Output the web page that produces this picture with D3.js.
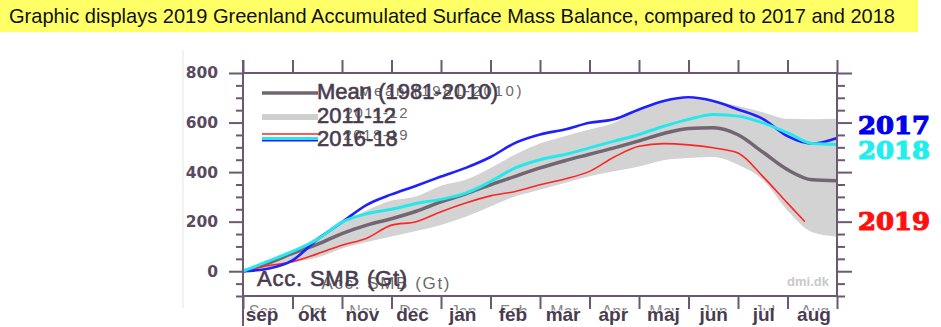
<!DOCTYPE html>
<html>
<head>
<meta charset="utf-8">
<script src="https://cdn.jsdelivr.net/npm/d3@7"></script>
<style>
body { margin: 0; background: #fff; }
svg { display: block; font-family: "Liberation Sans", Arial, sans-serif; }
</style>
</head>
<body>
<div id="canvas"></div>
<script>
// ----------------------------------------------------------
// DATA -----------------------------------------------------
// ----------------------------------------------------------
// x position in months since 1 Sep (half month steps)
var monthPos = [0, 0.5, 1, 1.5, 2, 2.5, 3, 3.5, 4, 4.5, 5, 5.5, 6, 6.5, 7, 7.5, 8, 8.5, 9, 9.5, 10, 10.5, 11, 11.5, 12];
var mean1981 = [0, 32, 72, 108, 152, 186, 212, 242, 280, 312, 349, 383, 417, 446, 472, 498, 526, 556, 576, 579, 551, 481, 410, 369, 365];
var bandUpper = [0, 35, 75, 140, 195, 245, 285, 302, 345, 369, 417, 471, 515, 545, 572, 599, 656, 687, 695, 687, 667, 642, 615, 613, 615];
var bandLower = [0, 15, 35, 55, 92, 118, 140, 162, 187, 220, 261, 302, 329, 356, 383, 403, 423, 448, 457, 461, 430, 369, 245, 157, 139];
var smb2017 = [0, 10, 44, 128, 198, 268, 310, 345, 382, 417, 461, 518, 552, 572, 599, 613, 653, 687, 702, 687, 653, 615, 545, 515, 538];
var smb2018 = [0, 40, 80, 128, 198, 232, 250, 273, 290, 315, 362, 417, 450, 471, 498, 525, 552, 585, 613, 633, 626, 599, 559, 515, 511];
// 2019 stops mid august
var pos2019 = [0, 0.5, 1, 1.5, 2, 2.5, 3, 3.5, 4, 4.5, 5, 5.5, 6, 6.5, 7, 7.5, 8, 8.5, 9, 9.5, 10, 10.5, 11, 11.35];
var smb2019 = [0, 22, 38, 70, 105, 133, 186, 200, 240, 275, 304, 322, 349, 372, 403, 461, 504, 515, 510, 498, 477, 383, 275, 200];

var monthLabels = ["sep", "okt", "nov", "dec", "jan", "feb", "mar", "apr", "maj", "jun", "jul", "aug"];
var monthGhost = ["Sep", "Oct", "Nov", "Dec", "Jan", "Feb", "Mar", "Apr", "May", "Jun", "Jul", "Aug"];
var yTicks = [-100, -50, 0, 50, 100, 150, 200, 250, 300, 350, 400, 450, 500, 550, 600, 650, 700, 750, 800];

var title = "Graphic displays 2019 Greenland Accumulated Surface Mass Balance, compared to 2017 and 2018";

// colours
var c_axis = "#6d5873";
var c_text = "#4a3c4f";
var c_band = "#d3d3d3";
var c_mean = "#716672";
var c_2017 = "#1f1fff";
var c_2018 = "#26e8ec";
var c_2019 = "#ff2424";

// ----------------------------------------------------------
// STRUCTURE ------------------------------------------------
// ----------------------------------------------------------
var svg = d3.select("#canvas").append("svg")
  .attr("width", 941)
  .attr("height", 327);

svg.append("rect").attr("width", 941).attr("height", 327).style("fill", "#fff");

var x = d3.scaleLinear().domain([0, 12]).range([243, 837]);
var y = d3.scaleLinear().domain([-100, 800]).range([296, 73]);
var xLab = d3.scalePoint().domain(monthLabels).range([262, 814]);

// title banner
svg.append("rect")
  .attr("x", 0).attr("y", 0).attr("width", 918).attr("height", 32)
  .style("fill", "#ffff66");
svg.append("text")
  .attr("x", 9).attr("y", 23)
  .attr("textLength", 886).attr("lengthAdjust", "spacingAndGlyphs")
  .style("font-size", "21px").style("fill", "#111")
  .text(title);

// faint frame line on the left of the pasted chart
svg.append("line")
  .attr("x1", 183).attr("x2", 183).attr("y1", 50).attr("y2", 308)
  .style("stroke", "#e4e4e4").style("stroke-width", 1);

// ----------------------------------------------------------
// GFX ------------------------------------------------------
// ----------------------------------------------------------
var gfx = svg.append("g");

var band = d3.area()
  .x(function(d, i) { return x(monthPos[i]); })
  .y0(function(d, i) { return y(bandLower[i]); })
  .y1(function(d, i) { return y(bandUpper[i]); })
  .curve(d3.curveMonotoneX);
gfx.append("path").datum(bandUpper).attr("d", band).style("fill", c_band);

function drawLine(pos, vals, color, w) {
  var line = d3.line()
    .x(function(d, i) { return x(pos[i]); })
    .y(function(d) { return y(d); })
    .curve(d3.curveMonotoneX);
  gfx.append("path").datum(vals).attr("d", line)
    .style("fill", "none").style("stroke", color).style("stroke-width", w)
    .style("stroke-linejoin", "round");
}
drawLine(monthPos, mean1981, c_mean, 3.5);
drawLine(pos2019, smb2019, c_2019, 1.6);
drawLine(monthPos, smb2017, c_2017, 2.6);
drawLine(monthPos, smb2018, c_2018, 3);

// AXIS  -------------------------------------------------
var axes = svg.append("g");

function styleAxis(g) {
  g.select(".domain").remove();
  g.selectAll(".tick line").style("stroke", c_axis).style("stroke-width", 2);
}

// left
axes.append("g")
  .attr("transform", "translate(243,0)")
  .call(d3.axisLeft(y).tickValues(yTicks).tickSize(7).tickPadding(11)
    .tickFormat(function(d) { return d % 200 === 0 && d >= 0 ? d : ""; }))
  .call(function(g) {
    styleAxis(g);
    g.selectAll(".tick line").attr("x2", function(d) { return d % 200 === 0 ? -14 : -7; });
    g.selectAll(".tick text")
      .style("font-family", "'DejaVu Sans', sans-serif")
      .style("font-weight", "bold").style("font-size", "15.5px")
      .style("fill", "#5a4a5e").attr("x", -25);
  });

// right
axes.append("g")
  .attr("transform", "translate(837,0)")
  .call(d3.axisRight(y).tickValues(yTicks).tickSize(8).tickFormat(""))
  .call(function(g) {
    styleAxis(g);
    g.selectAll(".tick line").attr("x2", function(d) { return d % 200 === 0 ? 15 : 8; });
  });

// top + bottom month ticks
axes.append("g")
  .attr("transform", "translate(0,73)")
  .call(d3.axisTop(x).tickValues(d3.range(0, 13)).tickSize(13).tickFormat(""))
  .call(styleAxis);
axes.append("g")
  .attr("transform", "translate(0,296)")
  .call(d3.axisBottom(x).tickValues(d3.range(0, 13)).tickSize(13).tickFormat(""))
  .call(styleAxis);

// frame
axes.append("rect")
  .attr("x", x(0)).attr("y", y(800))
  .attr("width", x(12) - x(0)).attr("height", y(-100) - y(800))
  .style("fill", "none").style("stroke", c_axis).style("stroke-width", 2);
axes.append("line")
  .attr("x1", x(0)).attr("x2", x(0)).attr("y1", 60).attr("y2", 326)
  .style("stroke", c_axis).style("stroke-width", 2);

// month labels: faint english ones half hidden behind the bold danish ones
var labels = svg.append("g");
labels.selectAll(".ghost")
  .data(monthGhost).enter().append("text")
  .attr("class", "ghost")
  .attr("x", function(d, i) { return xLab(monthLabels[i]) + 1; })
  .attr("y", 317)
  .attr("text-anchor", "middle")
  .style("font-size", "16px").style("fill", "#8a8a8a")
  .text(function(d) { return d; });
labels.append("rect")
  .attr("x", 244).attr("y", 310.5).attr("width", 600).attr("height", 17)
  .style("fill", "#fff");
labels.selectAll(".month")
  .data(monthLabels).enter().append("text")
  .attr("class", "month")
  .attr("x", function(d) { return xLab(d); })
  .attr("y", 321)
  .attr("text-anchor", "middle")
  .style("font-size", "19px").style("font-weight", "bold").style("fill", c_text)
  .text(function(d) { return d; });

// ----------------------------------------------------------
// LEGEND ---------------------------------------------------
// ----------------------------------------------------------
var legend = svg.append("g");
legend.append("line").attr("x1", 262).attr("x2", 318).attr("y1", 93).attr("y2", 93)
  .style("stroke", c_mean).style("stroke-width", 3.5);
legend.append("line").attr("x1", 262).attr("x2", 318).attr("y1", 117).attr("y2", 117)
  .style("stroke", "#cfcfcf").style("stroke-width", 6);
legend.append("line").attr("x1", 262).attr("x2", 318).attr("y1", 134).attr("y2", 134)
  .style("stroke", c_2019).style("stroke-width", 1.5);
legend.append("line").attr("x1", 262).attr("x2", 318).attr("y1", 139.5).attr("y2", 139.5)
  .style("stroke", c_2017).style("stroke-width", 4);
legend.append("line").attr("x1", 262).attr("x2", 318).attr("y1", 138.5).attr("y2", 138.5)
  .style("stroke", c_2018).style("stroke-width", 3);

// ghost texts of an older legend underneath
var ghosts = [
  { t: "Mean (1981-2010)", x: 524, y: 96, s: 15, ls: 2.6 },
  { t: "2011-12", x: 409, y: 118, s: 15, ls: 1.5 },
  { t: "2018-19", x: 409, y: 140, s: 15, ls: 1.5 },
  { t: "Acc. SMB (Gt)", x: 451, y: 289, s: 17, ls: 1.6 }
];
legend.selectAll(".ghost")
  .data(ghosts).enter().append("text")
  .attr("x", function(d) { return d.x; })
  .attr("y", function(d) { return d.y; })
  .attr("text-anchor", "end")
  .style("font-size", function(d) { return d.s + "px"; })
  .style("letter-spacing", function(d) { return d.ls + "px"; })
  .style("fill", "#6a6a6a")
  .text(function(d) { return d.t; });

var legendText = [
  { t: "Mean (1981-2010)", x: 317, y: 99, ls: 0 },
  { t: "2011-12", x: 317, y: 123, ls: 0 },
  { t: "2016-18", x: 317, y: 146, ls: 0 },
  { t: "Acc. SMB (Gt)", x: 257, y: 286, ls: 0.8 }
];
legend.selectAll(".ltext")
  .data(legendText).enter().append("text")
  .attr("x", function(d) { return d.x; })
  .attr("y", function(d) { return d.y; })
  .style("font-size", "22px")
  .style("letter-spacing", function(d) { return d.ls + "px"; })
  .style("fill", c_text).style("stroke", c_text).style("stroke-width", 0.6)
  .text(function(d) { return d.t; });

svg.append("text")
  .attr("x", 829).attr("y", 286).attr("text-anchor", "end")
  .style("font-size", "13px").style("font-weight", "bold").style("fill", "#c9c9c9")
  .text("dmi.dk");

// year labels on the right
var years = [
  { t: "2017", y: 134, c: "#0000ee" },
  { t: "2018", y: 159, c: "#22eeee" },
  { t: "2019", y: 230, c: "#ff1010" }
];
svg.selectAll(".year")
  .data(years).enter().append("text")
  .attr("x", 858).attr("y", function(d) { return d.y; })
  .attr("textLength", 72).attr("lengthAdjust", "spacingAndGlyphs")
  .style("font-family", "'DejaVu Serif', serif")
  .style("font-weight", "bold").style("font-size", "25px")
  .style("fill", function(d) { return d.c; })
  .style("stroke", function(d) { return d.c; }).style("stroke-width", 1.2)
  .text(function(d) { return d.t; });
</script>
</body>
</html>
